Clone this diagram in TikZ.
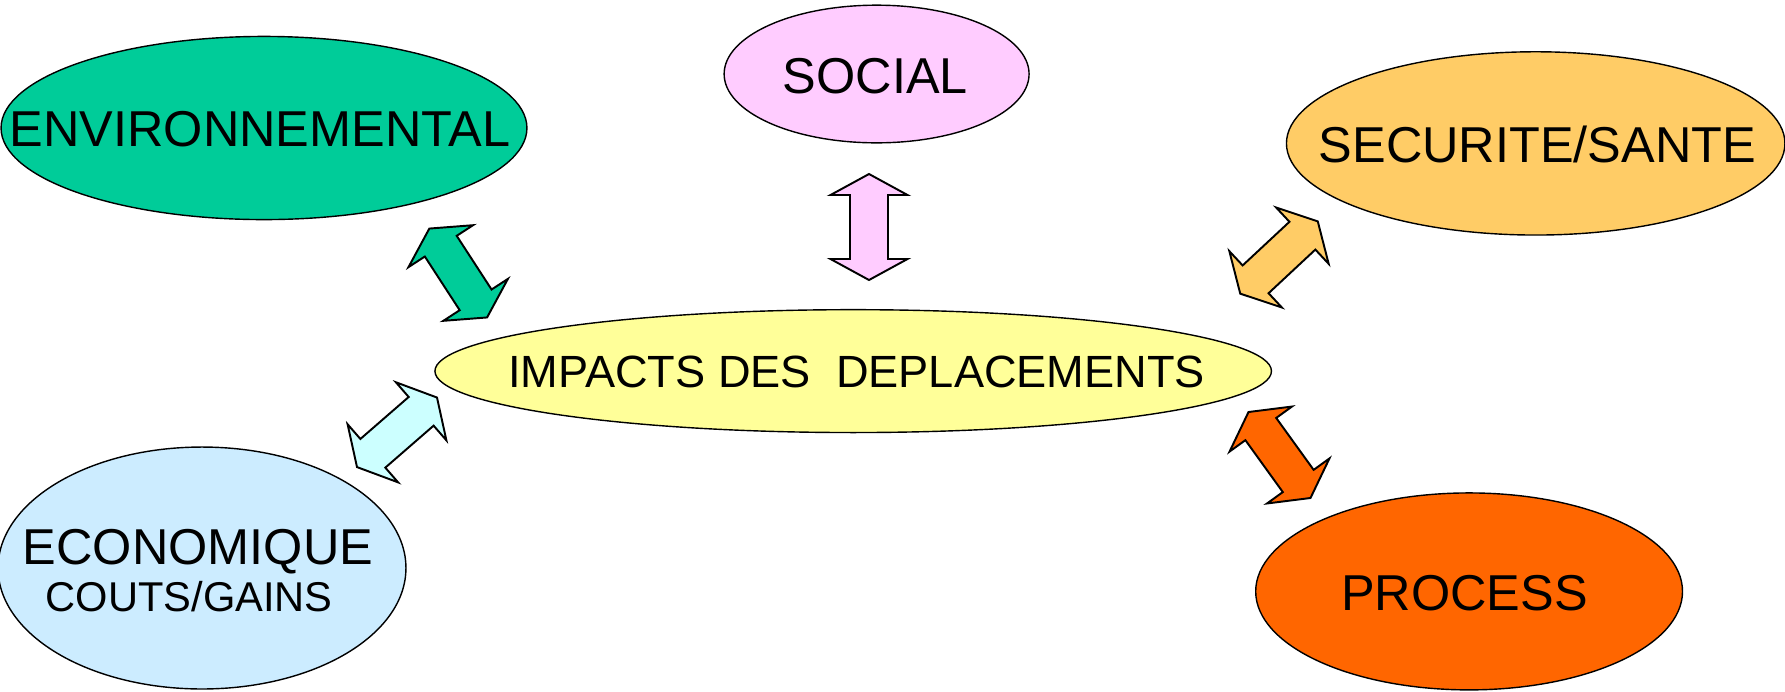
\documentclass[tikz,border=0pt]{standalone}
\usepackage{fontspec}
\setmainfont{Liberation Sans}
\usetikzlibrary{shapes.geometric}
\definecolor{envc}{HTML}{00CC99}
\definecolor{socc}{HTML}{FFCCFF}
\definecolor{secc}{HTML}{FFCC66}
\definecolor{impc}{HTML}{FFFF99}
\definecolor{ecoc}{HTML}{CCECFF}
\definecolor{proc}{HTML}{FF6600}
\definecolor{ecoarr}{HTML}{CCFFFF}
\begin{document}
\begin{tikzpicture}[x=0.02cm,y=-0.02cm,
  blob/.style={ellipse, draw=black, line width=0.8pt, inner sep=0pt, outer sep=0pt},
  big/.style={font=\fontsize{28.7}{32}\selectfont, anchor=base, inner sep=0pt},
  mid/.style={font=\fontsize{25.7}{30}\selectfont, anchor=base, inner sep=0pt},
  small/.style={font=\fontsize{23.7}{28}\selectfont, anchor=base, inner sep=0pt},
  blockarrow/.style={draw=black, line width=1.1pt, line join=miter},
  dblarrow/.pic={\path[pic actions] (0,-53) -- (38.5,-32) -- (19,-32) -- (19,32) -- (38.5,32) -- (0,53) -- (-38.5,32) -- (-19,32) -- (-19,-32) -- (-38.5,-32) -- cycle;}
]
\useasboundingbox (0,0) rectangle (1785,691);
% ellipses
\node[blob, fill=envc, minimum width=10.52cm, minimum height=3.664cm] (env) at (264,128) {};
\node[blob, fill=socc, minimum width=6.1cm, minimum height=2.754cm] (soc) at (876.6,74) {};
\node[blob, fill=secc, minimum width=9.972cm, minimum height=3.666cm] (sec) at (1535.7,143.4) {};
\node[blob, fill=impc, minimum width=16.734cm, minimum height=2.458cm] (imp) at (853.2,371.1) {};
\node[blob, fill=ecoc, minimum width=8.16cm, minimum height=4.84cm] (eco) at (202,568) {};
\node[blob, fill=proc, minimum width=8.538cm, minimum height=3.94cm] (pro) at (1469.1,591.4) {};
% texts
\node[big] (envt) at (260,146.8) {ENVIRONNEMENTAL};
\node[big] (soct) at (875.4,93.3) {SOCIAL};
\node[big] (sect) at (1537.4,162.1) {SECURITE/SANTE};
\node[mid] (impt) at (856.6,387.4) {IMPACTS DES\ \ DEPLACEMENTS};
\node[big] (ecot) at (198,564) {ECONOMIQUE};
\node[small] (ecot2) at (189.2,611.7) {COUTS/GAINS};
\node[big] (prot) at (1464.5,610.2) {PROCESS};
% double block arrows
\pic[blockarrow, fill=envc, rotate=33] at (458.2,273) {dblarrow};
\pic[blockarrow, fill=socc] at (869,227) {dblarrow};
\pic[blockarrow, fill=secc, rotate=-47] at (1279,257.5) {dblarrow};
\pic[blockarrow, fill=ecoarr, rotate=-49] at (397,432.3) {dblarrow};
\pic[blockarrow, fill=proc, rotate=35.8] at (1279.5,455) {dblarrow};
\end{tikzpicture}
\end{document}
